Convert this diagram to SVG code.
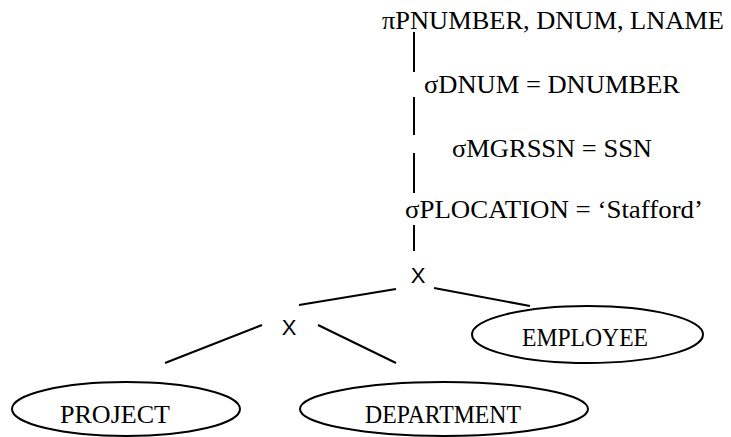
<svg xmlns="http://www.w3.org/2000/svg" width="731" height="437" viewBox="0 0 731 437">
  <style>
    .op { font-family: "Liberation Serif", "DejaVu Serif", serif; font-size: 26px; fill: #000; }
    .rel { font-family: "Liberation Serif", "DejaVu Serif", serif; font-size: 25px; fill: #000; text-anchor: middle; }
    .cross { font-family: "Liberation Sans", Arial, sans-serif; font-size: 22px; fill: #000; text-anchor: middle; }
    .edge { stroke: #000; stroke-width: 2; fill: none; }
    .leaf { stroke: #000; stroke-width: 2; fill: #fff; }
  </style>
  <rect width="731" height="437" fill="#fff"/>

  <!-- connectors of the query tree -->
  <g id="connectors">
    <line class="edge" x1="414" y1="32" x2="414" y2="72"/>
    <line class="edge" x1="414" y1="97" x2="414" y2="135"/>
    <line class="edge" x1="414" y1="153" x2="414" y2="193"/>
    <line class="edge" x1="414" y1="225" x2="414" y2="251"/>
    <line class="edge" x1="396" y1="289" x2="299" y2="305"/>
    <line class="edge" x1="434" y1="288" x2="530" y2="306"/>
    <line class="edge" x1="262" y1="325" x2="165" y2="363"/>
    <line class="edge" x1="318" y1="325" x2="396" y2="363"/>
  </g>

  <!-- projection -->
  <g id="project-op">
    <text class="op" x="382" y="29" textLength="342" lengthAdjust="spacingAndGlyphs">πPNUMBER, DNUM, LNAME</text>
  </g>

  <!-- selections -->
  <g id="select-dnum">
    <text class="op" x="424" y="93" textLength="256" lengthAdjust="spacingAndGlyphs">σDNUM = DNUMBER</text>
  </g>
  <g id="select-mgrssn">
    <text class="op" x="452" y="157" textLength="200" lengthAdjust="spacingAndGlyphs">σMGRSSN = SSN</text>
  </g>
  <g id="select-plocation">
    <text class="op" x="405" y="218" textLength="298" lengthAdjust="spacingAndGlyphs">σPLOCATION = ‘Stafford’</text>
  </g>

  <!-- cartesian products -->
  <g id="product-top">
    <text class="cross" x="418" y="283">X</text>
  </g>
  <g id="product-inner">
    <text class="cross" x="289" y="335">X</text>
  </g>

  <!-- base relations -->
  <g id="employee">
    <ellipse class="leaf" cx="587.5" cy="334.5" rx="115.5" ry="28.5"/>
    <text class="rel" x="585" y="346" textLength="126" lengthAdjust="spacingAndGlyphs">EMPLOYEE</text>
  </g>
  <g id="project">
    <ellipse class="leaf" cx="126" cy="409" rx="114" ry="27"/>
    <text class="rel" x="115" y="423" textLength="110" lengthAdjust="spacingAndGlyphs">PROJECT</text>
  </g>
  <g id="department">
    <ellipse class="leaf" cx="444" cy="409" rx="144" ry="27"/>
    <text class="rel" x="443" y="423" textLength="156" lengthAdjust="spacingAndGlyphs">DEPARTMENT</text>
  </g>
</svg>
